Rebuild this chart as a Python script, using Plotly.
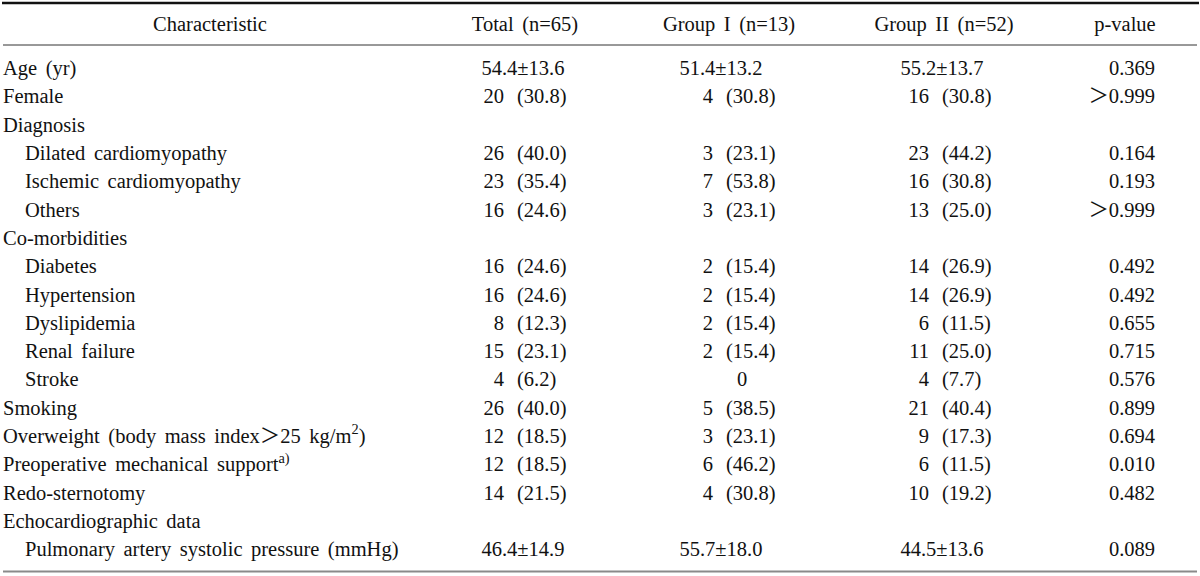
import plotly.graph_objects as go

headers = ["Characteristic", "Total (n=65)", "Group I (n=13)", "Group II (n=52)", "p-value"]

characteristics = [
    "Age (yr)", "Female", "Diagnosis", "Dilated cardiomyopathy", "Ischemic cardiomyopathy",
    "Others", "Co-morbidities", "Diabetes", "Hypertension", "Dyslipidemia", "Renal failure",
    "Stroke", "Smoking", "Overweight (body mass index＞25 kg/m<sup>2</sup>)",
    "Preoperative mechanical support<sup>a)</sup>", "Redo-sternotomy",
    "Echocardiographic data", "Pulmonary artery systolic pressure (mmHg)",
]
indented = [False, False, False, True, True, True, False, True, True, True, True,
            True, False, False, False, False, False, True]

total = ["54.4±13.6", "20 (30.8)", "", "26 (40.0)", "23 (35.4)", "16 (24.6)", "",
         "16 (24.6)", "16 (24.6)", "8 (12.3)", "15 (23.1)", "4 (6.2)", "26 (40.0)",
         "12 (18.5)", "12 (18.5)", "14 (21.5)", "", "46.4±14.9"]
group1 = ["51.4±13.2", "4 (30.8)", "", "3 (23.1)", "7 (53.8)", "3 (23.1)", "",
          "2 (15.4)", "2 (15.4)", "2 (15.4)", "2 (15.4)", "0", "5 (38.5)",
          "3 (23.1)", "6 (46.2)", "4 (30.8)", "", "55.7±18.0"]
group2 = ["55.2±13.7", "16 (30.8)", "", "23 (44.2)", "16 (30.8)", "13 (25.0)", "",
          "14 (26.9)", "14 (26.9)", "6 (11.5)", "11 (25.0)", "4 (7.7)", "21 (40.4)",
          "9 (17.3)", "6 (11.5)", "10 (19.2)", "", "44.5±13.6"]
pvalues = ["0.369", "＞0.999", "", "0.164", "0.193", "＞0.999", "", "0.492", "0.492",
           "0.655", "0.715", "0.576", "0.899", "0.694", "0.010", "0.482", "", "0.089"]

# ---- layout constants (pixels in a 1200x576 canvas) ----
W, H = 1200, 576
FONT = "Liberation Serif, 'Times New Roman', 'Noto Sans CJK KR', serif"
FS = 20.5
COLOR = "#111111"
SP = " \u2006"  # widened word spacing
row_y0, row_pitch = 70, 28.3
header_y = 26
rows_y = [row_y0 + i * row_pitch for i in range(len(characteristics))]

def widen(s):
    return s.replace(" ", SP)

fig = go.Figure()

def add_text(xs, ys, texts, pos):
    if not texts:
        return
    fig.add_trace(go.Scatter(
        x=xs, y=ys, text=texts, mode="text", textposition=pos,
        textfont=dict(family=FONT, size=FS, color=COLOR),
        hoverinfo="skip", showlegend=False, cliponaxis=False,
    ))

# header
header_x = [210, 525, 729, 944, 1125]
add_text(header_x, [header_y] * 5, [widen(h) for h in headers], "middle center")

# characteristic column
cx = [25 if ind else 3 for ind in indented]
add_text(cx, rows_y, [widen(c) for c in characteristics], "middle right")

# numeric columns: paren x, column center
cols = [(total, 518, 523), (group1, 727, 721), (group2, 943, 942)]
for vals, px, cc in cols:
    lx, ly, lt, rx, ry, rt, mx, my, mt = [], [], [], [], [], [], [], [], []
    for y, v in zip(rows_y, vals):
        if not v:
            continue
        if "(" in v:
            num, par = v.split(" ", 1)
            lx.append(px - 14); ly.append(y); lt.append(num)
            rx.append(px - 1); ry.append(y); rt.append(par)
        elif "±" in v:
            mx.append(cc); my.append(y); mt.append(v)
        else:
            mx.append(px + 15); my.append(y); mt.append(v)
    add_text(lx, ly, lt, "middle left")
    add_text(rx, ry, rt, "middle right")
    add_text(mx, my, mt, "middle center")

# p-values right aligned
pv_y = [y for y, v in zip(rows_y, pvalues) if v]
pv_t = [v for v in pvalues if v]
add_text([1155] * len(pv_t), pv_y, pv_t, "middle left")

# rules
fig.add_shape(type="line", x0=2, x1=1199, y0=3, y1=3, line=dict(color="#111111", width=2.5))
fig.add_shape(type="line", x0=3, x1=1197, y0=45, y1=45, line=dict(color="#333333", width=1))
fig.add_shape(type="line", x0=3, x1=1197, y0=571.5, y1=571.5, line=dict(color="#8a8a8a", width=2))

fig.update_layout(
    width=W, height=H,
    margin=dict(l=0, r=0, t=0, b=0),
    paper_bgcolor="white", plot_bgcolor="white",
    xaxis=dict(range=[0, W], visible=False, fixedrange=True),
    yaxis=dict(range=[H, 0], visible=False, fixedrange=True),
)

fig.write_html("out.html", config={"displayModeBar": False},
               post_script="document.body.style.margin='0px';document.body.style.overflow='hidden';")
